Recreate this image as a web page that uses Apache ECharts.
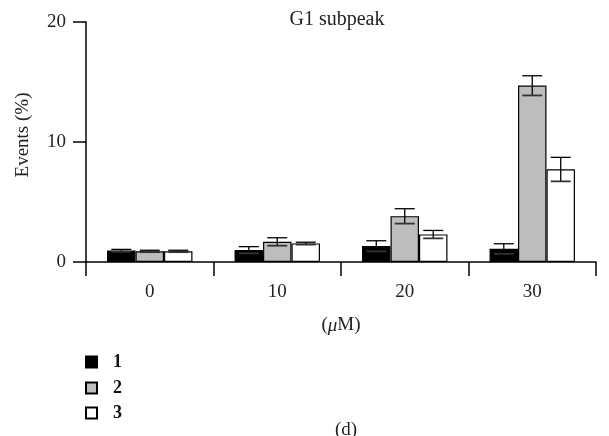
<!DOCTYPE html>
<html>
<head>
<meta charset="utf-8">
<script src="https://cdn.jsdelivr.net/npm/echarts@6/dist/echarts.min.js"></script>
<style>
  html, body { margin: 0; padding: 0; background: #fff; }
  #chart { width: 609px; height: 436px; }
</style>
</head>
<body>
<div id="chart"></div>
<script>
// Concentrations (μM) on the category axis
const categories = ['0', '10', '20', '30'];
const seriesNames = ['1', '2', '3'];

// Mean G1 subpeak events (%) per compound
const values1 = [0.95, 1.0, 1.33, 1.1];
const values2 = [0.9, 1.69, 3.82, 14.7];
const values3 = [0.9, 1.55, 2.3, 7.72];

// Error (± value) per bar
const errors1 = [0.1, 0.28, 0.44, 0.42];
const errors2 = [0.08, 0.33, 0.62, 0.82];
const errors3 = [0.08, 0.1, 0.33, 1.0];

const yTicks = [0, 10, 20];

const FONT = '"Liberation Serif", "DejaVu Serif", serif';
const fills = ['#000000', '#bdbdbd', '#ffffff'];
const allValues = [values1, values2, values3];
const allErrors = [errors1, errors2, errors3];

const chart = echarts.init(document.getElementById('chart'));

const barSeries = seriesNames.map((name, i) => ({
  name: name,
  type: 'bar',
  data: allValues[i],
  barGap: '0%',
  barCategoryGap: '33%',
  itemStyle: { color: fills[i], borderColor: '#000', borderWidth: 1.2 },
  emphasis: { disabled: true },
  z: 2
}));

// Error bars: one custom series per bar series, offset to sit on its bar
const errorSeries = seriesNames.map((name, i) => ({
  type: 'custom',
  name: name + ' err',
  data: categories.map((c, j) => [j, allValues[i][j], allErrors[i][j]]),
  z: 5,
  renderItem: function (params, api) {
    const j = api.value(0);
    const v = api.value(1);
    const e = api.value(2);
    const size = api.size([1, 0]);
    const catW = size[0];
    const barW = catW * (1 - 0.33) / 3;
    const offset = (i - 1) * barW;
    const top = api.coord([j, v + e]);
    const bot = api.coord([j, v - e]);
    const x = top[0] + offset;
    const cap = 10;
    const style = { stroke: '#000', lineWidth: 1.3, fill: null };
    return {
      type: 'group',
      children: [
        { type: 'line', shape: { x1: x, y1: top[1], x2: x, y2: bot[1] }, style: style },
        { type: 'line', shape: { x1: x - cap, y1: top[1], x2: x + cap, y2: top[1] }, style: style },
        { type: 'line', shape: { x1: x - cap, y1: bot[1], x2: x + cap, y2: bot[1] }, style: { stroke: '#333', lineWidth: 1.8 } }
      ]
    };
  }
}));

// One single-item legend per series, stacked vertically
const legendTops = [353, 379, 404];
const legends = seriesNames.map((name, i) => ({
  data: [name],
  orient: 'vertical',
  left: 85,
  top: legendTops[i],
  padding: 0,
  itemWidth: 11,
  itemHeight: 11,
  icon: 'rect',
  selectedMode: false,
  textStyle: { fontFamily: FONT, fontSize: 18, fontWeight: 'bold', color: '#111', padding: [0, 0, 0, 11] }
}));

chart.setOption({
  animation: false,
  backgroundColor: '#fff',
  textStyle: { fontFamily: FONT },
  grid: { left: 86, right: 13, top: 22, bottom: 174, containLabel: false },
  legend: legends,
  xAxis: {
    type: 'category',
    data: categories,
    boundaryGap: true,
    axisLine: { lineStyle: { color: '#000', width: 1.5 } },
    axisTick: { show: true, alignWithLabel: false, length: 14, lineStyle: { color: '#000', width: 1.5 } },
    axisLabel: { fontFamily: FONT, fontSize: 19, color: '#222', margin: 21 },
    name: '({mu|μ}M)',
    nameLocation: 'middle',
    nameGap: 54,
    nameTextStyle: {
      fontFamily: FONT, fontSize: 19, color: '#222',
      rich: { mu: { fontFamily: FONT, fontSize: 19, fontStyle: 'italic', color: '#222' } }
    }
  },
  yAxis: {
    type: 'value',
    min: yTicks[0],
    max: yTicks[yTicks.length - 1],
    interval: 10,
    splitLine: { show: false },
    axisLine: { show: true, lineStyle: { color: '#000', width: 1.5 } },
    axisTick: { show: true, length: 13, lineStyle: { color: '#000', width: 1.5 } },
    axisLabel: { fontFamily: FONT, fontSize: 19, color: '#222', margin: 20 },
    name: 'Events (%)',
    nameLocation: 'middle',
    nameGap: 53,
    nameTextStyle: { fontFamily: FONT, fontSize: 19, color: '#222', padding: [0, 0, 0, 14] }
  },
  graphic: [
    {
      type: 'text', x: 337, y: 20,
      style: { text: 'G1 subpeak', font: '20px ' + FONT, fill: '#222', textAlign: 'center', textVerticalAlign: 'middle' }
    },
    {
      type: 'text', x: 346, y: 430,
      style: { text: '(d)', font: '19px ' + FONT, fill: '#222', textAlign: 'center', textVerticalAlign: 'middle' }
    }
  ],
  series: barSeries.concat(errorSeries)
});
</script>
</body>
</html>
